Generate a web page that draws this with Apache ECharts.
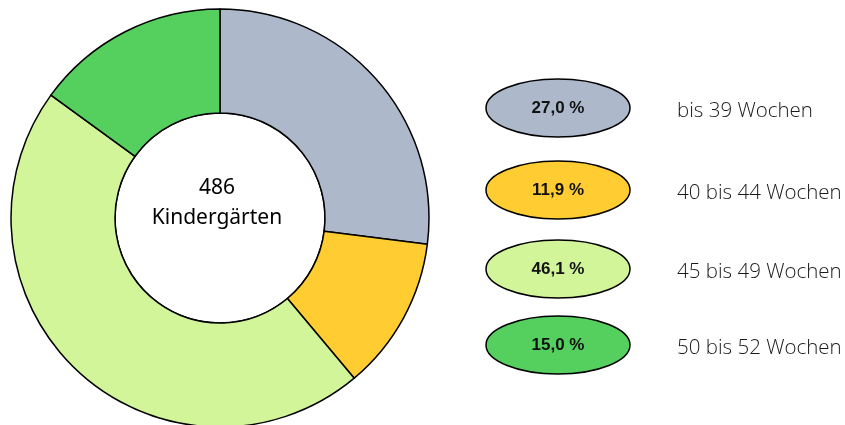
<!DOCTYPE html>
<html>
<head>
<meta charset="utf-8">
<script src="https://cdn.jsdelivr.net/npm/echarts@6/dist/echarts.min.js"></script>
<style>
  html, body { margin: 0; padding: 0; background: #fff; }
  #chart { width: 845px; height: 425px; }
</style>
</head>
<body>
<div id="chart"></div>
<script>
// Dauer der Öffnung pro Jahr
var categories = ['bis 39 Wochen', '40 bis 44 Wochen', '45 bis 49 Wochen', '50 bis 52 Wochen'];
var shares = [27.0, 11.9, 46.1, 15.0];
var colors = ['#adb9ca', '#ffcc32', '#d2f59a', '#55cf5d'];
var centerLabel = ['486', 'Kindergärten'];

var chart = echarts.init(document.getElementById('chart'));

// legend rows: ellipse with percent + label text
var rowY = [108, 190, 269, 345];
var legendItems = [];
categories.forEach(function (name, i) {
  legendItems.push({
    type: 'ellipse',
    shape: { cx: 558, cy: rowY[i], rx: 72, ry: 29 },
    style: { fill: colors[i], stroke: '#000', lineWidth: 1.5 }
  });
  legendItems.push({
    type: 'text',
    x: 558, y: rowY[i],
    style: {
      text: shares[i].toFixed(1).replace('.', ',') + ' %',
      fill: '#111',
      font: 'bold 17px "Liberation Sans Narrow", "Liberation Sans", Arial',
      align: 'center', verticalAlign: 'middle'
    }
  });
  legendItems.push({
    type: 'text',
    x: 677, y: rowY[i] + 3,
    style: {
      text: name,
      fill: '#1a1a1a',
      font: '300 20.5px "Open Sans", "Noto Sans", sans-serif',
      align: 'left', verticalAlign: 'middle'
    }
  });
});

var option = {
  animation: false,
  series: [
    {
      type: 'pie',
      center: [220, 218],
      radius: [105, 209],
      startAngle: 90,
      clockwise: true,
      label: { show: false },
      labelLine: { show: false },
      itemStyle: { borderColor: '#000', borderWidth: 1.5 },
      data: categories.map(function (c, i) {
        return { name: c, value: shares[i], itemStyle: { color: colors[i] } };
      })
    }
  ],
  graphic: [
    {
      type: 'circle',
      shape: { cx: 220, cy: 218, r: 105 },
      style: { fill: '#fff', stroke: '#000', lineWidth: 1.5 },
      z: 1
    },
    {
      type: 'text',
      x: 217, y: 203,
      z: 2,
      style: {
        text: centerLabel.join('\n'),
        fill: '#000',
        font: '21px "Noto Sans", "Open Sans", sans-serif',
        lineHeight: 30,
        align: 'center', verticalAlign: 'middle'
      }
    }
  ].concat(legendItems)
};

chart.setOption(option);
</script>
</body>
</html>
